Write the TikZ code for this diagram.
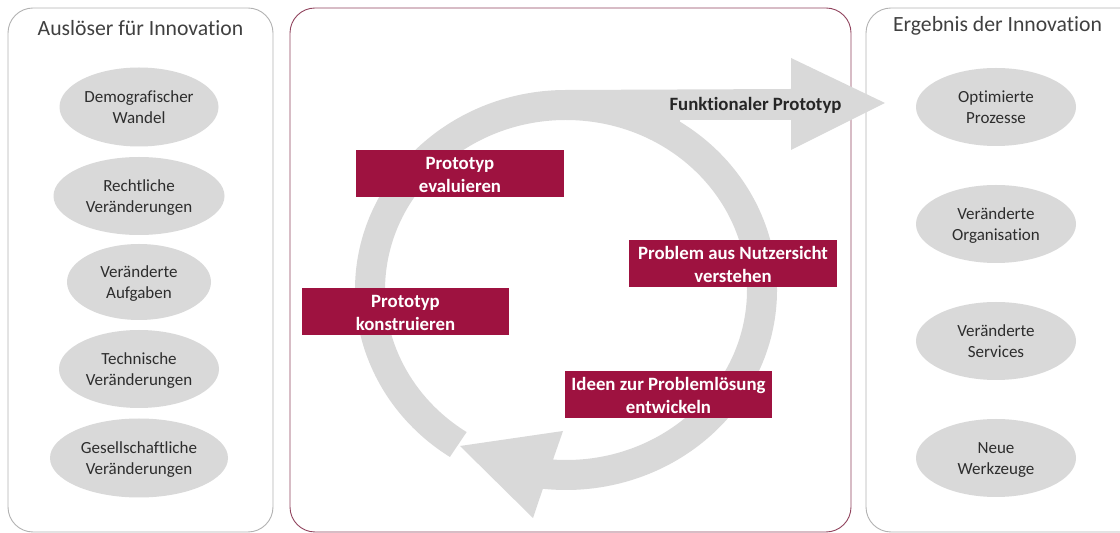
\documentclass[tikz,border=0pt]{standalone}
\usepackage{fontspec}
\setmainfont[Ligatures=NoCommon]{Carlito}
\usetikzlibrary{shapes.geometric}
\definecolor{crim}{HTML}{9E1240}
\definecolor{fillgray}{HTML}{D9D9D9}
\definecolor{txt}{HTML}{404040}
\newcommand{\ovtxt}[2]{\parbox[c][44pt][c]{130pt}{\centering\vspace*{4.6pt}\strut #1\strut\\\strut #2\strut}}
\newcommand{\rdtxt}[2]{\parbox[c][47pt][c]{207pt}{\centering\vspace*{6pt}\strut #1\strut\\\strut #2\strut}}
\tikzset{
  panel/.style={draw=#1,line width=0.9pt,rounded corners=25pt,fill=white},
  oval/.style={shape=ellipse,fill=fillgray,inner xsep=-30pt,inner ysep=0pt,text=txt!70!black,font=\fontsize{17}{21}\selectfont},
  redbox/.style={fill=crim,text=white,minimum width=207.5pt,minimum height=47pt,inner sep=0pt,font=\fontsize{18.8}{23}\selectfont\bfseries},
  heading/.style={text=txt,font=\fontsize{21.7}{26}\selectfont,inner sep=0pt}
}
\begin{document}
\begin{tikzpicture}[x=1pt,y=1pt]
\useasboundingbox (0,0) rectangle (1120,533);
\draw[panel=gray!60] (8,1) rectangle (273,525);
\draw[panel=crim!55!gray] (290,1) rectangle (851,525);
\draw[panel=gray!60] (866,1) rectangle (1150,525);
\node[heading] (t1) at (140.5,505) {Auslöser für Innovation};
\node[heading] (t2) at (997.5,507) {Ergebnis der Innovation};
% ring arrow
\coordinate (c) at (566,243);
\fill[fillgray] ([shift={(236.6:211pt and 200pt)}]c)
  arc[start angle=236.6,end angle=90,x radius=211pt,y radius=200pt]
  -- (791,444) -- (791,475) -- (885,430) -- (791,383) -- (791,413) -- (680,413)
  -- ([shift={(57.3:211pt and 200pt)}]c)
  arc[start angle=57.3,end angle=-96.3,x radius=211pt,y radius=200pt]
  -- (533,15) -- (460,87) -- (563,102)
  -- ([shift={(-94.1:181pt and 170pt)}]c)
  arc[start angle=-94.1,end angle=236.7,x radius=181pt,y radius=170pt]
  -- cycle;
\node[font=\fontsize{18.8}{23}\selectfont\bfseries,text=black!85,inner sep=0pt] (fp) at (755.5,428) {Funktionaler Prototyp};
% left ovals
\node[oval,minimum width=159pt,minimum height=79pt] (l1) at (139,426) {\ovtxt{Demografischer}{Wandel}};
\node[oval,minimum width=171pt,minimum height=78pt] (l2) at (139,337) {\ovtxt{Rechtliche}{Veränderungen}};
\node[oval,minimum width=144pt,minimum height=76pt] (l3) at (139,251) {\ovtxt{Veränderte}{Aufgaben}};
\node[oval,minimum width=160pt,minimum height=78pt] (l4) at (139,164) {\ovtxt{Technische}{Veränderungen}};
\node[oval,minimum width=178pt,minimum height=79pt] (l5) at (139,75) {\ovtxt{Gesellschaftliche}{Veränderungen}};
% right ovals
\node[oval,minimum width=160pt,minimum height=78pt] (r1) at (996,426) {\ovtxt{Optimierte}{Prozesse}};
\node[oval,minimum width=160pt,minimum height=78pt] (r2) at (996,309) {\ovtxt{Veränderte}{Organisation}};
\node[oval,minimum width=160pt,minimum height=78pt] (r3) at (996,192) {\ovtxt{Veränderte}{Services}};
\node[oval,minimum width=160pt,minimum height=78pt] (r4) at (996,75) {\ovtxt{Neue}{Werkzeuge}};
% red boxes
\node[redbox] (b1) at (460,359.5) {\rdtxt{Prototyp}{evaluieren}};
\node[redbox] (b2) at (405.5,221.5) {\rdtxt{Prototyp}{konstruieren}};
\node[redbox] (b3) at (733,269.5) {\rdtxt{Problem aus Nutzersicht}{verstehen}};
\node[redbox] (b4) at (668.5,138.5) {\rdtxt{Ideen zur Problemlösung}{entwickeln}};
\end{tikzpicture}
\end{document}
